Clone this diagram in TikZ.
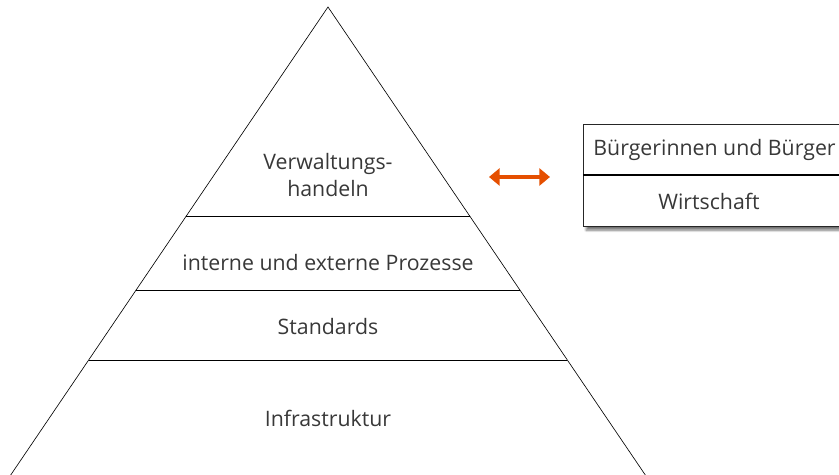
\documentclass[tikz,border=0pt]{standalone}
\usepackage{fontspec}
\setmainfont{Open Sans}
\usetikzlibrary{calc,arrows.meta,shadows.blur}

\definecolor{textgray}{rgb}{0.22,0.22,0.22}
\definecolor{fhorange}{rgb}{0.90,0.31,0.0}

\tikzset{
  layer/.style={font=\fontsize{20.2}{26.5}\selectfont,color=textgray,align=center},
  boxline/.style={line width=0.8pt,color=black!85}
}

\begin{document}
\begin{tikzpicture}[>=Triangle,thick]

\useasboundingbox (0,0) rectangle (27.967,15.833);
\clip (0,0) rectangle (27.967,15.833);

% pyramid
\coordinate (apex) at (10.933,15.6);
\coordinate (bl) at (0.357,0);
\coordinate (br) at (21.51,0);
\draw[line width=0.6pt] (bl) -- (apex) -- (br);

\draw[line width=0.6pt] ($(apex)!0.4466!(bl)$) -- ($(apex)!0.4466!(br)$);
\draw[line width=0.6pt] ($(apex)!0.6047!(bl)$) -- ($(apex)!0.6047!(br)$);
\draw[line width=0.6pt] ($(apex)!0.7543!(bl)$) -- ($(apex)!0.7543!(br)$);

\node[layer] (handeln) at (10.933,10.0) {Verwaltungs-\\handeln};
\node[layer] (prozesse) at (10.933,7.067) {interne und externe Prozesse};
\node[layer] (standards) at (10.933,4.933) {Standards};
\node[layer] (infra) at (10.933,1.9) {Infrastruktur};

% partner box
\fill[white,blur shadow={shadow xshift=3pt,shadow yshift=-4pt,shadow blur steps=10,shadow opacity=55}]
  (19.433,8.3) rectangle (28.5,11.7);
\draw[boxline] (19.433,8.3) rectangle (28.5,11.7);
\draw[line width=1.2pt] (19.433,10.0) -- (28.5,10.0);

\node[layer,anchor=west] (buerger) at (19.65,10.833) {Bürgerinnen und Bürger};
\node[layer] (wirtschaft) at (23.633,9.133) {Wirtschaft};

% relation arrow
\coordinate (al) at (16.3,9.933);
\coordinate (ar) at (18.333,9.933);
\draw[<->,color=fhorange,line width=3pt,>={Triangle[length=10pt,width=16pt]}] (al) -- (ar);

\end{tikzpicture}
\end{document}
